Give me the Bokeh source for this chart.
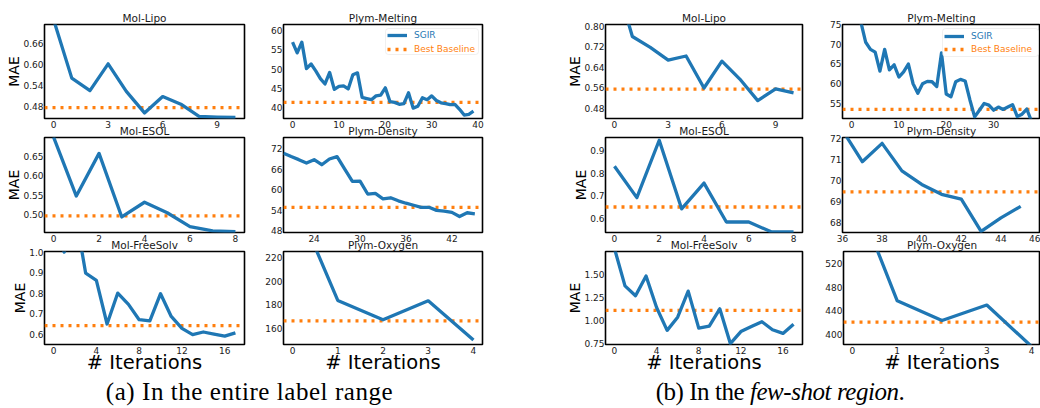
from bokeh.plotting import figure
from bokeh.layouts import row, column
from bokeh.models import (Range1d, FixedTicker, PrintfTickFormatter, Legend,
                          LegendItem, BoxAnnotation, Div)
from bokeh.embed import file_html
from bokeh.resources import INLINE

# ---------------- data : (a) entire label range ----------------
lipo_a_x = list(range(0, 11))
lipo_a_y = [0.73, 0.562, 0.526, 0.603, 0.524, 0.462, 0.509, 0.487, 0.452, 0.450, 0.449]
lipo_a_base = 0.477

melt_a_x = list(range(0, 40))
melt_a_y = [57.0, 54.2, 57.0, 50.1, 51.3, 49.5, 47.5, 46.1, 49.1, 44.7,
            45.5, 45.6, 44.8, 48.5, 49.0, 42.6, 42.3, 42.0, 43.0, 43.2,
            45.1, 41.5, 41.3, 40.8, 41.0, 43.8, 39.8, 40.3, 42.5, 42.0,
            43.0, 41.8, 41.2, 41.0, 40.7, 40.8, 39.5, 38.0, 38.2, 39.0]
melt_a_base = 41.3

esol_a_x = list(range(0, 9))
esol_a_y = [0.70, 0.548, 0.658, 0.494, 0.532, 0.505, 0.469, 0.458, 0.456]
esol_a_base = 0.497

dens_a_x = list(range(20, 46))
dens_a_y = [70.7, 69.7, 68.8, 67.8, 68.8, 67.3, 69.0, 69.7, 66.0, 62.4,
            62.5, 58.7, 58.9, 57.3, 57.6, 56.7, 56.0, 55.4, 54.8, 54.8,
            53.9, 53.7, 53.3, 52.1, 53.2, 52.9]
dens_a_base = 54.8

free_a_x = list(range(0, 18))
free_a_y = [1.10, 1.00, 1.20, 0.897, 0.862, 0.649, 0.800, 0.745, 0.670, 0.664,
            0.797, 0.686, 0.628, 0.597, 0.610, 0.600, 0.590, 0.606]
free_a_base = 0.641

oxy_a_x = list(range(0, 5))
oxy_a_y = [274.0, 183.6, 167.2, 183.3, 150.0]
oxy_a_base = 166.3

# ---------------- data : (b) few-shot region ----------------
lipo_b_x = list(range(0, 11))
lipo_b_y = [1.00, 0.760, 0.718, 0.668, 0.684, 0.559, 0.664, 0.594, 0.510, 0.556, 0.540]
lipo_b_base = 0.555

melt_b_x = list(range(0, 39))
melt_b_y = [82.0, 78.0, 75.5, 70.5, 68.7, 68.0, 63.2, 68.7, 63.5, 64.8,
            61.7, 63.0, 65.0, 60.0, 57.6, 60.0, 60.6, 60.5, 59.3, 67.8,
            57.4, 56.7, 60.5, 61.1, 60.7, 55.9, 51.6, 53.3, 55.0, 54.6,
            53.3, 54.1, 53.5, 54.1, 54.7, 51.7, 52.3, 53.6, 50.5]
melt_b_base = 53.5

esol_b_x = list(range(0, 9))
esol_b_y = [0.830, 0.692, 0.944, 0.643, 0.756, 0.585, 0.585, 0.542, 0.542]
esol_b_base = 0.651

dens_b_x = list(range(36, 46))
dens_b_y = [72.4, 70.89, 71.77, 70.45, 69.8, 69.33, 69.1, 67.55, 68.2, 68.75]
dens_b_base = 69.45

free_b_x = list(range(0, 18))
free_b_y = [1.78, 1.375, 1.268, 1.482, 1.140, 0.893, 1.036, 1.318, 0.917, 0.940,
            1.126, 0.750, 0.880, 0.935, 0.987, 0.900, 0.860, 0.960]
free_b_base = 1.11

oxy_b_x = list(range(0, 5))
oxy_b_y = [649.0, 457.2, 423.8, 450.0, 380.0]
oxy_b_base = 421.0

# ---------------- axis limits and ticks ----------------
titles = [["Mol-Lipo", "Plym-Melting", "Mol-Lipo", "Plym-Melting"],
          ["Mol-ESOL", "Plym-Density", "Mol-ESOL", "Plym-Density"],
          ["Mol-FreeSolv", "Plym-Oxygen", "Mol-FreeSolv", "Plym-Oxygen"]]

ylims = [[(0.446, 0.716), (37.1, 61.6), (0.44, 0.807), (51.2, 75.0)],
         [(0.454, 0.699), (47.4, 75.3), (0.539, 0.956), (67.5, 72.05)],
         [(0.549, 1.003), (146.1, 225.3), (0.74, 1.747), (383.3, 540.6)]]

xlims_fixed = {(1, 1): (20, 46), (1, 3): (36, 46)}

xticks = [[[0, 3, 6, 9], [0, 10, 20, 30, 40], [0, 3, 6, 9], [0, 10, 20, 30]],
          [[0, 2, 4, 6, 8], [24, 30, 36, 42], [0, 2, 4, 6, 8], [36, 38, 40, 42, 44, 46]],
          [[0, 4, 8, 12, 16], [0, 1, 2, 3, 4], [0, 4, 8, 12, 16], [0, 1, 2, 3, 4]]]

yticks = [[[0.48, 0.54, 0.60, 0.66], [40, 45, 50, 55, 60], [0.48, 0.56, 0.64, 0.72, 0.80], [55, 60, 65, 70, 75]],
          [[0.50, 0.55, 0.60, 0.65], [48, 54, 60, 66, 72], [0.6, 0.7, 0.8, 0.9], [68, 69, 70, 71, 72]],
          [[0.6, 0.7, 0.8, 0.9, 1.0], [160, 180, 200, 220], [0.75, 1.00, 1.25, 1.50], [400, 440, 480, 520]]]

yfmts = [["%.2f", "%d", "%.2f", "%d"],
         ["%.2f", "%d", "%.1f", "%d"],
         ["%.1f", "%d", "%.2f", "%d"]]

series = [[(lipo_a_x, lipo_a_y, lipo_a_base), (melt_a_x, melt_a_y, melt_a_base),
           (lipo_b_x, lipo_b_y, lipo_b_base), (melt_b_x, melt_b_y, melt_b_base)],
          [(esol_a_x, esol_a_y, esol_a_base), (dens_a_x, dens_a_y, dens_a_base),
           (esol_b_x, esol_b_y, esol_b_base), (dens_b_x, dens_b_y, dens_b_base)],
          [(free_a_x, free_a_y, free_a_base), (oxy_a_x, oxy_a_y, oxy_a_base),
           (free_b_x, free_b_y, free_b_base), (oxy_b_x, oxy_b_y, oxy_b_base)]]

captions = ["(a) In the entire label range", "(b) In the <i>few-shot region</i>."]

# ---------------- styling / geometry ----------------
BLUE = "#1f77b4"
ORANGE = "#ff7f0e"
FONT = "DejaVu Sans"
TXT = "#1a1a1a"

# (figure width, border left, border right)
col_geo = [(262, 44, 18), (258, 21, 38), (302, 85, 20), (218, 20, 0)]
# (figure height, border top, border bottom, margin top)
row_geo = [(132, 24, 14, 0), (125, 16, 14, -11), (141, 16, 30, -11)]

# legend geometry relative to frame top-left: box (x0, x1, y0, y1), glyph x, entry centres
legend_geo = {(0, 1): ((102, 195, 4, 30), 104, 10.7, 24.7),
              (0, 3): ((100, 196, 4, 32), 102, 11.7, 25.0)}


def pad(xs, frac=0.05):
    lo, hi = min(xs), max(xs)
    d = (hi - lo) * frac
    return (lo - d, hi + d)


def make_panel(r, c):
    fw, bl, br = col_geo[c]
    fh, bt, bb, _ = row_geo[r]
    xs, ys, base = series[r][c]
    xr = xlims_fixed.get((r, c), pad(xs))
    yr = ylims[r][c]
    p = figure(width=fw, height=fh, x_range=Range1d(*xr), y_range=Range1d(*yr),
               min_border_left=bl, min_border_right=br, min_border_top=bt,
               min_border_bottom=bb, toolbar_location=None, output_backend="svg",
               title=titles[r][c])
    p.border_fill_color = None
    p.background_fill_color = "white"
    p.outline_line_color = "black"
    p.outline_line_width = 1.6
    p.xgrid.grid_line_color = None
    p.ygrid.grid_line_color = None
    p.title.align = "center"
    p.title.text_font = FONT
    p.title.text_font_size = "10.5px"
    p.title.text_font_style = "normal"
    p.title.text_color = TXT
    p.title.standoff = 1
    p.xaxis.ticker = FixedTicker(ticks=xticks[r][c])
    p.yaxis.ticker = FixedTicker(ticks=yticks[r][c])
    p.yaxis.formatter = PrintfTickFormatter(format=yfmts[r][c])
    for ax in (p.xaxis[0], p.yaxis[0]):
        ax.axis_line_color = None
        ax.major_tick_line_color = None
        ax.minor_tick_line_color = None
        ax.major_tick_out = 0
        ax.major_tick_in = 0
        ax.major_label_text_font = FONT
        ax.major_label_text_font_size = "9px"
        ax.major_label_text_color = TXT
        ax.axis_label_text_font = FONT
        ax.axis_label_text_font_style = "normal"
        ax.axis_label_text_color = "black"
    p.xaxis.major_label_standoff = 2
    p.yaxis.major_label_standoff = 1
    if c in (0, 2):
        p.yaxis.axis_label = "MAE"
        p.yaxis.axis_label_text_font_size = "14px"
        p.yaxis.axis_label_standoff = -2
    if r == 2:
        p.xaxis.axis_label = "# Iterations"
        p.xaxis.axis_label_text_font_size = "19.5px"
        p.xaxis.axis_label_standoff = -6

    base_r = p.line([xr[0], xr[1]], [base, base], line_color=ORANGE, line_width=3.3,
                    line_dash="3 5", line_cap="butt")
    line_r = p.line(xs, ys, line_color=BLUE, line_width=3.3, line_join="round")

    if (r, c) in legend_geo:
        (x0, x1, y0, y1), gx, e1, e2 = legend_geo[(r, c)]
        frame_h = fh - bt - bb
        box = BoxAnnotation(left=x0, right=x1, top=frame_h - y0, bottom=frame_h - y1,
                            left_units="screen", right_units="screen",
                            top_units="screen", bottom_units="screen",
                            fill_color="white", fill_alpha=0.85,
                            line_color="#cccccc", line_width=1, border_radius=3)
        p.add_layout(box)
        for lab, rend, col, ec in (("SGIR", line_r, BLUE, e1),
                                   ("Best Baseline", base_r, ORANGE, e2)):
            lg = Legend(items=[LegendItem(label=lab, renderers=[rend])],
                        location=(gx, frame_h - ec - 6), margin=0, padding=0,
                        spacing=0, glyph_width=20, glyph_height=12, label_height=12,
                        label_standoff=7, border_line_color=None,
                        background_fill_alpha=0, label_text_font=FONT,
                        label_text_font_size="9px", label_text_color=col)
            p.add_layout(lg)
    return p


rows = []
for r in range(3):
    figs = [make_panel(r, c) for c in range(4)]
    rows.append(row(*figs, margin=(row_geo[r][3], 0, 0, 0)))

cap_style = {"font-family": "Liberation Serif", "font-size": "25px", "color": "black",
             "text-align": "center", "line-height": "31px", "white-space": "nowrap"}
cap_a = Div(text=captions[0], width=520, height=31, margin=0,
            styles=dict(cap_style, **{"text-indent": "-21px", "letter-spacing": "0.55px"}))
cap_b = Div(text=captions[1], width=520, height=31, margin=0,
            styles=dict(cap_style, **{"letter-spacing": "-0.45px"}))
rows.append(row(cap_a, cap_b))

root = column(*rows)

with open("out.html", "w") as f:
    f.write(file_html(root, INLINE, title="SGIR"))
